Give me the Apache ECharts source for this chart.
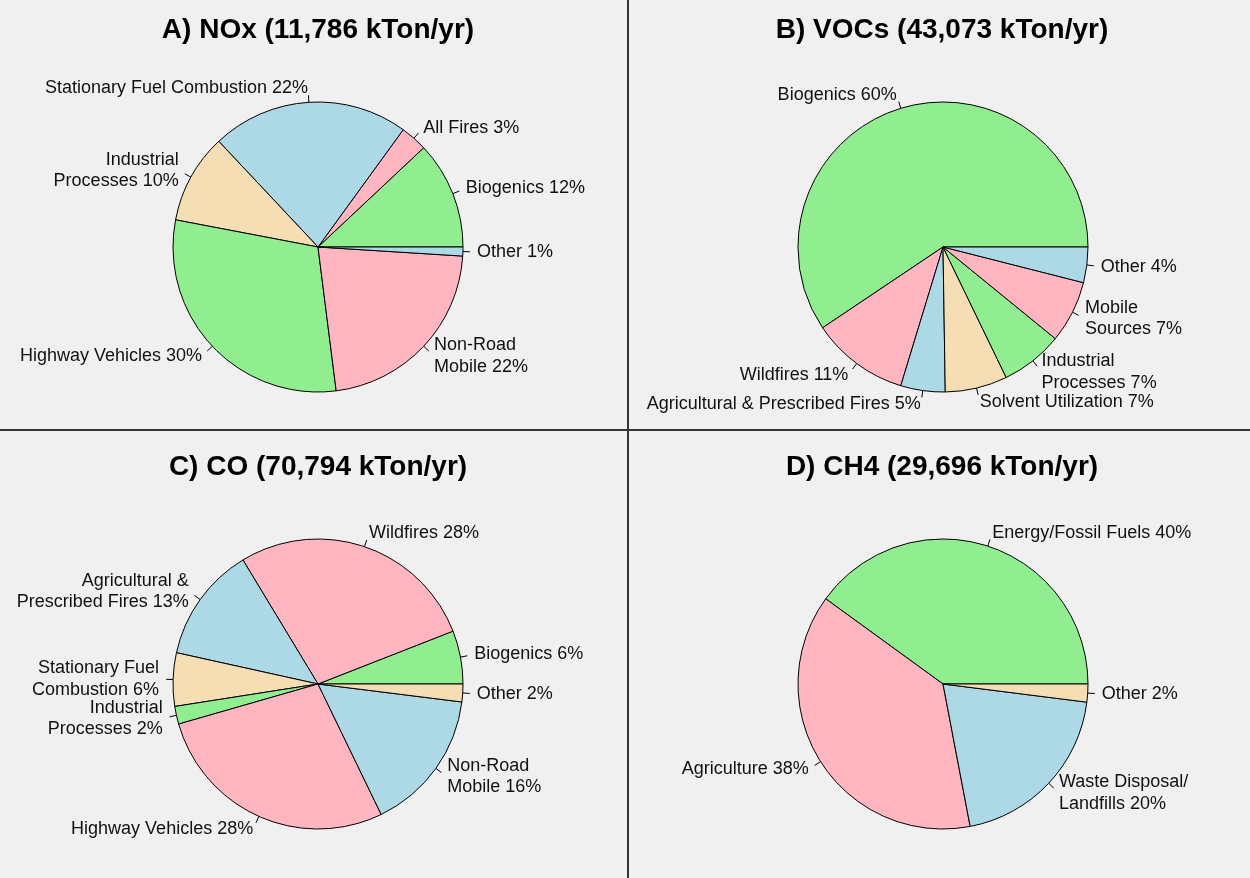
<!DOCTYPE html>
<html>
<head>
<meta charset="utf-8">
<title>Emissions by source</title>
<script src="https://cdn.jsdelivr.net/npm/echarts@6/dist/echarts.min.js"></script>
<style>
  html, body { margin: 0; padding: 0; background: #f0f0f0; }
  #main { width: 1250px; height: 878px; }
</style>
</head>
<body>
<div id="main"></div>
<script>
// panel titles
const titles = [
  'A) NOx (11,786 kTon/yr)',
  'B) VOCs (43,073 kTon/yr)',
  'C) CO (70,794 kTon/yr)',
  'D) CH4 (29,696 kTon/yr)'
];

// A) NOx
const noxNames = ['Biogenics', 'All Fires', 'Stationary Fuel Combustion', 'Industrial\nProcesses',
  'Highway Vehicles', 'Non-Road\nMobile', 'Other'];
const noxPct = [12, 3, 22, 10, 30, 22, 1];

// B) VOCs
const vocNames = ['Biogenics', 'Wildfires', 'Agricultural & Prescribed Fires', 'Solvent Utilization',
  'Industrial\nProcesses', 'Mobile\nSources', 'Other'];
const vocPct = [60, 11, 5, 7, 7, 7, 4];

// C) CO
const coNames = ['Biogenics', 'Wildfires', 'Agricultural &\nPrescribed Fires', 'Stationary Fuel\nCombustion',
  'Industrial\nProcesses', 'Highway Vehicles', 'Non-Road\nMobile', 'Other'];
const coPct = [6, 28, 13, 6, 2, 28, 16, 2];

// D) CH4
const ch4Names = ['Energy/Fossil Fuels', 'Agriculture', 'Waste Disposal/\nLandfills', 'Other'];
const ch4Pct = [40, 38, 20, 2];

const sliceColors = ['#90EE90', '#FFB6C1', '#ADD8E6', '#F5DEB3'];
const fontFam = '"Liberation Sans", Arial, sans-serif';

const mychart = echarts.init(document.getElementById('main'));

// R style labels: tick from r to 1.05r, text at 1.1r
function shiftLabel(p) {
  const pts = p.labelLinePoints;
  if (!pts || pts.length < 3) return {};
  const ddx = pts[1][0] - pts[0][0];
  const ddy = pts[1][1] - pts[0][1];
  return { x: pts[2][0] + ddx, y: pts[2][1] + ddy, labelLinePoints: pts };
}

function makePie(names, pct, cx, cy) {
  return {
    type: 'pie',
    center: [cx, cy],
    radius: 145,
    startAngle: 0,
    clockwise: false,
    avoidLabelOverlap: false,
    silent: true,
    emphasis: { disabled: true },
    data: names.map((n, i) => ({ name: n, value: pct[i], itemStyle: { color: sliceColors[i % 4] } })),
    itemStyle: { borderColor: '#000', borderWidth: 1 },
    label: {
      position: 'outside',
      alignTo: 'none',
      distanceToLabelLine: 0,
      formatter: p => p.name + ' ' + p.value + '%',
      color: '#111',
      fontSize: 18,
      lineHeight: 21.6,
      fontFamily: fontFam
    },
    labelLine: {
      show: true,
      length: 7,
      length2: 0,
      smooth: false,
      lineStyle: { color: '#000', width: 1 }
    },
    labelLayout: shiftLabel
  };
}

const titleBase = {
  textAlign: 'center',
  padding: 0,
  textStyle: { fontFamily: fontFam, fontWeight: 'bold', fontSize: 28, color: '#000' }
};

const option = {
  backgroundColor: '#f0f0f0',
  animation: false,
  title: [
    Object.assign({ text: titles[0], left: 318, top: 16 }, titleBase),
    Object.assign({ text: titles[1], left: 942, top: 16 }, titleBase),
    Object.assign({ text: titles[2], left: 318, top: 453 }, titleBase),
    Object.assign({ text: titles[3], left: 942, top: 453 }, titleBase)
  ],
  graphic: [
    { type: 'line', shape: { x1: 628, y1: 0, x2: 628, y2: 878 }, style: { stroke: '#333', lineWidth: 2 } },
    { type: 'line', shape: { x1: 0, y1: 430, x2: 1250, y2: 430 }, style: { stroke: '#333', lineWidth: 2 } }
  ],
  series: [
    makePie(noxNames, noxPct, 318, 247),
    makePie(vocNames, vocPct, 943, 247),
    makePie(coNames, coPct, 318, 684),
    makePie(ch4Names, ch4Pct, 943, 684)
  ]
};

mychart.setOption(option);
</script>
</body>
</html>
